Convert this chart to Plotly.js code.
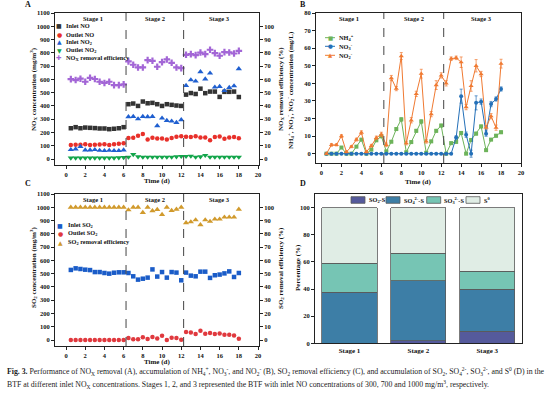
<!DOCTYPE html>
<html><head><meta charset="utf-8">
<script src="https://cdn.plot.ly/plotly-3.0.1.min.js"></script>
<style>html,body{margin:0;padding:0;background:#fff}</style>
</head><body><div id="chart" style="width:554px;height:397px"></div>
<script>
// ---------- DATA ----------
const time = [0.5,1,1.5,2,2.5,3,3.5,4,4.5,5,5.5,6,6.5,7,7.5,8,8.5,9,9.5,10,10.5,11,11.5,12,12.5,13,13.5,14,14.5,15,15.5,16,16.5,17,17.5,18];
const stageBounds = [6.25, 12.25];
const stageLabels = ['Stage 1','Stage 2','Stage 3'];
const stageLabelX = [2.8, 9.3, 16];

// Panel A (mg/m3, %)
const inletNO   = [232,240,232,237,235,233,230,230,225,228,232,240, 413,418,400,433,420,423,413,400,413,408,403,400, 485,497,490,530,496,508,508,468,506,506,508,467];
const outletNO  = [105,108,108,112,105,107,110,112,105,112,115,118, 158,160,175,188,147,160,155,155,147,158,168,172, 168,166,172,163,163,142,166,170,153,163,166,156];
const inletNO2  = [70,75,93,68,68,70,65,63,65,63,63,68, 318,320,302,320,318,320,250,308,290,285,275,295, 553,596,586,657,602,647,541,546,515,538,551,680];
const outletNO2 = [8,8,8,8,8,8,8,8,8,8,10,12, 15,35,18,15,15,15,15,15,15,15,18,20, 20,22,15,18,28,15,15,15,15,15,15,15];
const noxEff    = [60.2,59.5,60.5,58.2,61.2,60.3,58.2,57.3,58.2,55.7,55.7,56.2, 73.5,71,69,69,74.5,74,69.5,73,75,72.5,69,68.5, 78.5,79,78.3,80.2,79,82.3,79.8,77.8,80.5,80.3,79.5,81.5];

// Panel B (mg/L)
const nh4    = [0,0,0,3.5,0,0,4,8,0,2.3,7.6,9.9, 1.3,6.8,14,19.5,0.8,6.6,13,18.3,0.5,7,13,16, 0,6,6.7,11.8,0,7.8,11.4,15.5,2,8,10.2,12.2];
const nh4Err = [0.3,0.3,0.3,0.5,0.3,0.3,0.5,0.6,0.3,0.5,0.6,0.8, 0.5,0.6,0.8,1,0.5,0.6,0.8,1,0.5,0.6,0.8,0.8, 0.3,0.6,0.6,0.8,0.3,0.6,0.8,0.8,0.5,0.6,0.8,0.8];
const no3    = [0,0,0,0,0,0,0,0,0,0,0,0, 0,0,0,0,0,0,0,0,0,0,0,0, 0,0,9.2,32.7,10.8,0,28.9,29.6,11.4,28.2,31.1,36.8];
const no3Err = [0,0,0,0,0,0,0,0,0,0,0,0, 0,0,0,0,0,0,0,0,0,0,0,0, 0,0,1,4,1.5,2,4,1.5,1.5,1.5,1.2,1.2];
const no2    = [0,5,5,10,1,4,8,12,1,4.5,9,11, 5,43,37,55.5,6,19,34,45.5,7,22.5,39,44.5, 40,54,54.5,52,26.5,38.5,50,45.3,15,21.3,14.8,51.2];
const no2Err = [0.5,0.8,0.6,0.8,0.5,0.6,0.8,1,0.5,0.8,1,1.2, 1,1.5,1.2,2,1,1.5,1.5,2.5,1,1.5,2.5,1.5, 1.5,1,1,3,1.5,3,3.5,1.5,1,1.5,1.5,2.5];

// Panel C (mg/m3, %)
const inletSO2  = [528,540,535,530,527,512,512,505,500,507,510,510, 505,480,455,462,470,532,478,512,470,512,508,450, 508,485,480,515,515,468,488,493,502,517,475,505];
const outletSO2 = [0,0,0,0,0,0,0,0,0,0,0,0, 15,5,5,20,8,22,12,32,0,17,15,2, 60,57,45,70,48,53,45,50,40,40,35,10];
const so2Eff    = [100,100,100,100,100,100,100,100,100,100,100,100, 98,100,100,96,100,97.3,98.3,94.5,100,97.5,98.5,100, 88.3,89,90.5,86.8,90.5,89.3,91,91,92.5,92.5,92.5,98.5];

// Panel D (%)
const so2S = [0, 1.7, 9];
const so4S = [37.5, 44.4, 30.7];
const so3S = [21.3, 20.1, 13.5];
const s0   = [41.2, 33.8, 46.8];

// ---------- STYLE ----------
const W=554, H=397;
const px = x => x/W, py = y => 1 - y/H;
const FONT = 'Liberation Serif';
const tickF = {family:FONT, size:6.5, color:'#111', weight:'bold'};
const C = {blk:'#333333', red:'#e8302a', blu:'#1f5fd0', grn:'#12a54a', pur:'#a366d6',
           sblu:'#1a5cc8', sred:'#e0393e', must:'#d19a2c',
           nh4:'#6db35a', no3:'#2470b8', no2:'#f07a32',
           d1:'#555a9c', d2:'#3d7ea6', d3:'#76c5b4', d4:'#e0ede5'};

function ax(extra){
  return Object.assign({showline:true, linecolor:'#222', linewidth:1, mirror:true,
    ticks:'outside', ticklen:3, tickwidth:1, tickcolor:'#222', showgrid:false,
    zeroline:false, tickfont:tickF, fixedrange:true}, extra);
}

const traces = [];
function sc(x, y, xa, ya, name, color, symbol, size, extra){
  traces.push(Object.assign({type:'scatter', mode:'markers', x:x, y:y, xaxis:xa, yaxis:ya,
    name:name, showlegend:false, marker:{color:color, symbol:symbol, size:size}}, extra||{}));
}
// A
sc(time, inletNO,   'x','y',  'Inlet NO',   C.blk,'square',4.5);
sc(time, outletNO,  'x','y',  'Outlet NO',  C.red,'circle',4.5);
sc(time, inletNO2,  'x','y',  'Inlet NO2',  C.blu,'triangle-up',5.5);
sc(time, outletNO2, 'x','y',  'Outlet NO2', C.grn,'triangle-down',5.5);
sc(time, noxEff,    'x','y2', 'NOx removal efficiency', C.pur,'cross',5.5);
// B
function ln(y, err, name, color, symbol, size){
  traces.push({type:'scatter', mode:'lines+markers', x:time, y:y, xaxis:'x2', yaxis:'y3', name:name,
    showlegend:false, line:{color:color, width:1}, marker:{color:color, symbol:symbol, size:size},
    error_y:{type:'data', array:err, color:color, thickness:0.7, width:1.5}});
}
ln(nh4, nh4Err, 'NH4+', C.nh4, 'square', 4);
ln(no3, no3Err, 'NO3-', C.no3, 'circle', 4);
ln(no2, no2Err, 'NO2-', C.no2, 'triangle-up', 4.5);
// C
sc(time, inletSO2,  'x3','y4', 'Inlet SO2',  C.sblu,'square',4.5);
sc(time, outletSO2, 'x3','y4', 'Outlet SO2', C.sred,'circle',4.5);
sc(time, so2Eff,    'x3','y5', 'SO2 removal efficiency', C.must,'triangle-up',5.5);
// D
function bar(y, name, color){
  traces.push({type:'bar', x:stageLabels, y:y, xaxis:'x4', yaxis:'y6', name:name, showlegend:false,
    width:0.8, marker:{color:color, line:{color:'#5a5a5a', width:0.8}}});
}
bar(so2S, 'SO2-S', C.d1);
bar(so4S, 'SO42--S', C.d2);
bar(so3S, 'SO32--S', C.d3);
bar(s0,   'S0', C.d4);

// ---------- ANNOTATIONS / SHAPES ----------
const ann = [], shapes = [];
function txt(x, y, text, opt){
  ann.push(Object.assign({xref:'paper', yref:'paper', x:px(x), y:py(y), text:text, showarrow:false,
    xanchor:'center', yanchor:'middle', font:{family:FONT, size:7, color:'#111', weight:'bold'}}, opt||{}));
}
// panel letters
txt(28,5,'A',{font:{family:FONT,size:8,color:'#111',weight:'bold'}});
txt(303,5,'B',{font:{family:FONT,size:8,color:'#111',weight:'bold'}});
txt(28,183,'C',{font:{family:FONT,size:8,color:'#111',weight:'bold'}});
txt(303,183,'D',{font:{family:FONT,size:8,color:'#111',weight:'bold'}});
// axis titles
txt(157,181,'Time (d)');
txt(418,182,'Time (d)');
txt(157,362,'Time (d)');
txt(33,89,'NO<sub>X</sub> concentration (mg/m<sup>3</sup>)',{textangle:-90});
txt(281,89,'NO<sub>X</sub> removal efficiency (%)',{textangle:-90});
txt(290,90,'NH<sub>4</sub><sup>+</sup>, NO<sub>3</sub><sup>-</sup>, NO<sub>2</sub><sup>-</sup> concentration (mg/L)',{textangle:-90});
txt(33,268,'SO<sub>2</sub> concentration (mg/m<sup>3</sup>)',{textangle:-90});
txt(281,268,'SO<sub>2</sub> removal efficiency (%)',{textangle:-90});
txt(298,268,'Percentage (%)',{textangle:-90});
// stage labels
[['x',19],['x2',19],['x3',199]].forEach(([xa,yy])=>{
  stageLabels.forEach((s,i)=>{
    ann.push({xref:xa, yref:'paper', x:stageLabelX[i], y:py(yy), text:s, showarrow:false,
      xanchor:'center', yanchor:'middle', font:{family:FONT,size:6.5,color:'#111',weight:'bold'}});
  });
});
// stage dividers
[['x','y'],['x2','y3'],['x3','y4']].forEach(([xa,ya])=>{
  stageBounds.forEach(b=>{
    shapes.push({type:'line', xref:xa, yref:ya+' domain', x0:b, x1:b, y0:0, y1:1,
      line:{color:'#444', width:1, dash:'dash'}});
  });
});
// legends (text glyph keys)
const lgF = {family:FONT, size:6.3, color:'#111', weight:'bold'};
function key(x, y, glyph, color, size){
  txt(x, y, glyph, {font:{family:'DejaVu Sans', size:size||6, color:color}});
}
function lab(x, y, text){ txt(x, y, text, {xanchor:'left', font:lgF}); }
// A legend
const legA = [['Inlet NO','■',C.blk,6],['Outlet NO','●',C.red,6],['Inlet NO<sub>2</sub>','▲',C.blu,6],
              ['Outlet NO<sub>2</sub>','▼',C.grn,6],['NO<sub>X</sub> removal efficiency','✚',C.pur,6.5]];
const legAy = [25.7,34,42,50.3,58.3];
legA.forEach((e,i)=>{ key(59, legAy[i], e[1], e[2], e[3]); lab(64, legAy[i], e[0]); });
// C legend
const legC = [['Inlet SO<sub>2</sub>','■',C.sblu,6],['Outlet SO<sub>2</sub>','●',C.sred,6],
              ['SO<sub>2</sub> removal efficiency','▲',C.must,6]];
const legCy = [225,233.3,242.3];
legC.forEach((e,i)=>{ key(60, legCy[i], e[1], e[2], e[3]); lab(65.5, legCy[i], e[0]); });
// B legend
const legB = [['NH<sub>4</sub><sup>+</sup>','■',C.nh4],['NO<sub>3</sub><sup>-</sup>','●',C.no3],['NO<sub>2</sub><sup>-</sup>','▲',C.no2]];
const legBy = [37.7,46.3,55.3];
legB.forEach((e,i)=>{
  shapes.push({type:'line', xref:'paper', yref:'paper', x0:px(325), x1:px(335), y0:py(legBy[i]), y1:py(legBy[i]),
    line:{color:e[2], width:1}});
  key(330, legBy[i], e[1], e[2], 5.5); lab(337, legBy[i], e[0]);
});
// D legend
const legD = [['SO<sub>2</sub>-S',C.d1,351,366.5],['SO<sub>4</sub><sup>2-</sup>-S',C.d2,386,401.5],
              ['SO<sub>3</sub><sup>2-</sup>-S',C.d3,426.7,442],['S<sup>0</sup>',C.d4,466,481.5]];
legD.forEach(e=>{
  shapes.push({type:'rect', xref:'paper', yref:'paper', x0:px(e[2]), x1:px(e[2]+14), y0:py(203.3), y1:py(196.7),
    fillcolor:e[1], line:{color:'#5a5a5a', width:0.8}});
  lab(e[3], 200, e[0]);
});
// caption
const capF = {family:FONT, size:7.8, color:'#222'};
txt(5,371,'<b>Fig. 3.</b> Performance of NO<sub>X</sub> removal (A), accumulation of NH<sub>4</sub><sup>+</sup>, NO<sub>3</sub><sup>-</sup>, and NO<sub>2</sub><sup>-</sup> (B), SO<sub>2</sub> removal efficiency (C), and accumulation of SO<sub>2</sub>, SO<sub>4</sub><sup>2-</sup>, SO<sub>3</sub><sup>2-</sup>, and S<sup>0</sup> (D) in the',{xanchor:'left', font:capF});
txt(5,384,'BTF at different inlet NO<sub>X</sub> concentrations. Stages 1, 2, and 3 represented the BTF with inlet NO concentrations of 300, 700 and 1000 mg/m<sup>3</sup>, respectively.',{xanchor:'left', font:capF});

// ---------- LAYOUT ----------
const t0to100 = [0,10,20,30,40,50,60,70,80,90,100];
const layout = {
  width:W, height:H, margin:{l:0,r:0,t:0,b:0}, paper_bgcolor:'#fff', plot_bgcolor:'#fff',
  showlegend:false, barmode:'stack', font:{family:FONT, color:'#111'},
  xaxis:  ax({domain:[px(55),px(259)], anchor:'y', range:[-1.15,20.1], tick0:0, dtick:2}),
  yaxis:  ax({domain:[py(165),py(13)], anchor:'x', range:[-45,1100], tick0:0, dtick:100}),
  yaxis2: ax({overlaying:'y', side:'right', anchor:'x', range:[-4.5,110], tickvals:t0to100, mirror:false}),
  xaxis2: ax({domain:[px(316),px(521)], anchor:'y3', range:[-0.55,20], tick0:0, dtick:2}),
  yaxis3: ax({domain:[py(163),py(13)], anchor:'x2', range:[-5.3,80], tick0:0, dtick:10}),
  xaxis3: ax({domain:[px(55),px(259)], anchor:'y4', range:[-1.15,20.1], tick0:0, dtick:2}),
  yaxis4: ax({domain:[py(346),py(194)], anchor:'x3', range:[-45,1100], tick0:0, dtick:100}),
  yaxis5: ax({overlaying:'y4', side:'right', anchor:'x3', range:[-4.5,110], tickvals:t0to100, mirror:false}),
  xaxis4: ax({domain:[px(315),px(521.7)], anchor:'y6', type:'category', range:[-0.5,2.5], ticks:'', tickfont:{family:FONT,size:7,color:'#111',weight:'bold'}}),
  yaxis6: ax({domain:[py(343.3),py(194)], anchor:'x4', range:[0,110], tickvals:[0,20,40,60,80,100]}),
  annotations: ann, shapes: shapes
};
Plotly.newPlot('chart', traces, layout, {displayModeBar:false, staticPlot:true});
</script>
</body></html>
